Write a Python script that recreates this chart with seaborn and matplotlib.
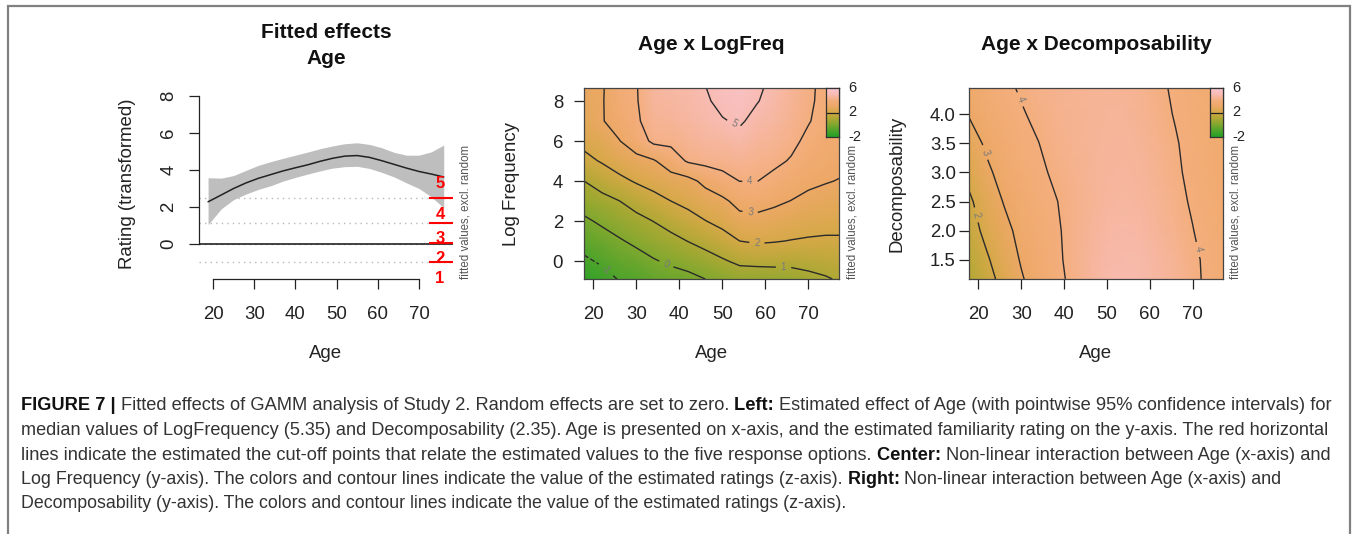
import numpy as np
import pandas as pd
import matplotlib
matplotlib.use("Agg")
import matplotlib.pyplot as plt
import seaborn as sns
from matplotlib.colors import LinearSegmentedColormap
from matplotlib.patches import Rectangle
from matplotlib.font_manager import FontProperties, findfont

# ---------------- data ----------------
# Left panel: fitted effect of Age with 95% CI
age_pts = [18.8, 22, 25, 28, 31, 34, 37, 40, 43, 46, 49, 52, 55, 58, 61, 64, 67, 70, 73, 76]
fit_vals = [2.28, 2.65, 3.0, 3.3, 3.55, 3.75, 3.95, 4.12, 4.28, 4.47, 4.63, 4.75, 4.78, 4.68, 4.5, 4.3, 4.1, 3.92, 3.78, 3.62]
ci_upper = [3.58, 3.56, 3.7, 3.98, 4.25, 4.45, 4.63, 4.8, 4.97, 5.15, 5.3, 5.42, 5.47, 5.38, 5.2, 4.95, 4.8, 4.8, 4.98, 5.35]
ci_lower = [1.05, 1.9, 2.4, 2.7, 2.95, 3.15, 3.4, 3.6, 3.78, 3.95, 4.1, 4.18, 4.2, 4.08, 3.87, 3.62, 3.3, 3.0, 2.55, 1.95]
cutoffs = [-0.97, 0.0, 1.13, 2.49]
response_labels = ["1", "2", "3", "4", "5"]

# Center panel: Age x LogFreq surface (one list per age column, rows = log frequency)
grid_age = [17.8, 22, 26, 30, 34, 38, 42, 46, 50, 54, 58, 62, 66, 70, 74, 77.1]
grid_logfreq = [-0.9, 0, 1, 2, 3, 4, 5, 6, 7, 8, 8.65]
z_logfreq_by_age = [
    [-1.6, -1.15, -0.65, -0.15, 0.41, 1.0, 1.74, 2.25, 2.55, 2.75, 2.85],
    [-1.33, -0.87, -0.37, 0.15, 0.73, 1.39, 2.08, 2.48, 2.95, 2.93, 2.9],
    [-0.95, -0.55, -0.09, 0.44, 0.99, 1.78, 2.42, 2.97, 3.35, 3.6, 3.7],
    [-0.86, -0.36, 0.19, 0.73, 1.37, 2.09, 2.72, 3.5, 3.88, 3.95, 3.96],
    [-0.55, -0.07, 0.47, 1.02, 1.7, 2.33, 2.91, 4.2, 4.4, 4.5, 4.55],
    [-0.38, 0.15, 0.73, 1.35, 2.0, 2.58, 3.52, 4.2, 4.45, 4.6, 4.7],
    [-0.25, 0.35, 1.02, 1.66, 2.25, 2.72, 4.1, 4.4, 4.6, 4.72, 4.78],
    [0.0, 0.62, 1.3, 1.98, 2.54, 3.24, 4.25, 4.55, 4.75, 4.9, 4.98],
    [0.24, 0.9, 1.63, 2.26, 2.8, 3.73, 4.26, 4.6, 4.95, 5.2, 5.3],
    [0.46, 1.19, 2.0, 2.67, 3.33, 4.01, 4.38, 4.75, 5.1, 5.35, 5.45],
    [0.44, 1.25, 2.11, 2.73, 3.38, 4.02, 4.27, 4.52, 4.78, 5.04, 5.12],
    [0.51, 1.25, 2.05, 2.62, 3.18, 3.76, 4.18, 4.4, 4.6, 4.75, 4.82],
    [0.58, 1.24, 1.97, 2.48, 2.98, 3.45, 3.93, 4.2, 4.33, 4.42, 4.45],
    [0.76, 1.3, 1.91, 2.37, 2.8, 3.17, 3.49, 3.81, 4.05, 4.1, 4.1],
    [0.92, 1.38, 1.88, 2.3, 2.69, 3.05, 3.3, 3.5, 3.7, 3.82, 3.85],
    [1.08, 1.45, 1.9, 2.25, 2.6, 2.97, 3.2, 3.4, 3.6, 3.72, 3.75],
]

# Right panel: Age x Decomposability surface (one list per decomposability row)
grid_decomp = [1.17, 1.5, 2.0, 2.5, 3.0, 3.5, 4.0, 4.45]
z_decomp_by_row = [
    [1.1, 1.7, 2.3, 2.92, 3.4, 3.8, 4.15, 4.5, 4.75, 4.85, 4.8, 4.6, 4.4, 4.15, 3.85, 3.65],
    [1.3, 1.9, 2.5, 3.07, 3.5, 3.85, 4.2, 4.5, 4.72, 4.8, 4.75, 4.58, 4.38, 4.12, 3.85, 3.65],
    [1.6, 2.25, 2.75, 3.25, 3.6, 3.9, 4.2, 4.45, 4.65, 4.72, 4.65, 4.45, 4.25, 4.02, 3.75, 3.6],
    [1.85, 2.5, 3.05, 3.45, 3.75, 3.97, 4.2, 4.4, 4.55, 4.6, 4.55, 4.38, 4.17, 3.93, 3.68, 3.55],
    [2.25, 2.85, 3.3, 3.65, 3.88, 4.1, 4.27, 4.42, 4.52, 4.55, 4.48, 4.32, 4.1, 3.85, 3.62, 3.5],
    [2.6, 3.15, 3.55, 3.82, 3.99, 4.2, 4.33, 4.43, 4.48, 4.5, 4.42, 4.25, 4.05, 3.8, 3.6, 3.48],
    [3.05, 3.45, 3.72, 3.95, 4.12, 4.25, 4.35, 4.42, 4.45, 4.45, 4.35, 4.18, 3.96, 3.75, 3.58, 3.45],
    [3.3, 3.62, 3.88, 4.06, 4.2, 4.3, 4.37, 4.42, 4.44, 4.42, 4.32, 4.1, 3.92, 3.72, 3.57, 3.45],
]
zlim = (-2, 6)
colorbar_ticks = [6, 2, -2]

# ---------------- style ----------------
sns.set_style("ticks")
plt.rcParams["font.family"] = ["Liberation Sans", "DejaVu Sans"]

W, H, DPI = 1357, 534, 100
fig = plt.figure(figsize=(W / DPI, H / DPI), dpi=DPI)


def fx(x):
    return x / W


def fy(y):
    return 1 - y / H


def rect(l, t, r, b):
    return [l / W, 1 - b / H, (r - l) / W, (b - t) / H]


terrain_like = LinearSegmentedColormap.from_list(
    "gamm_terrain",
    [(0.0, "#22A126"), (0.125, "#4DA32B"), (0.25, "#80A82E"), (0.375, "#AEA834"),
     (0.5, "#D6A847"), (0.625, "#EDA866"), (0.75, "#F4AE7C"), (0.8125, "#F6B59A"),
     (0.875, "#F8BCB4"), (1.0, "#F9C6D2")])

TICK_FS = 13.4
LAB_FS = 13.4
TITLE_FS = 15
AX_TOP, AX_BOT = 88, 279
SIDE_FS = 8.3

# ---------------- left panel ----------------
ax1 = fig.add_axes(rect(199, AX_TOP, 453, AX_BOT))
ax1.fill_between(age_pts, ci_lower, ci_upper, color="#bebebe", lw=0, zorder=1)
sns.lineplot(x=age_pts, y=fit_vals, ax=ax1, color="#222222", lw=1.1, zorder=3)
for c in cutoffs:
    ax1.axhline(c, color="#b8b8b8", ls=(0, (1, 3)), lw=1.0, zorder=2)
ax1.axhline(0, color="#222222", lw=1.2, zorder=4)
ax1.hlines([c + (0.05 if c == 0 else 0) for c in cutoffs], 72.4, 78.25, color="#ff0000", lw=1.5, zorder=5)
label_y = [-1.86, -0.77, 0.3, 1.6, 3.28]
for lab, yv in zip(response_labels, label_y):
    ax1.text(75.1, yv, lab, color="#ff0000", fontsize=12, fontweight="bold",
             ha="center", va="center", zorder=6, clip_on=False)
ax1.set_xlim(16.6, 78.25)
ax1.set_ylim(-1.89, 8.43)
ax1.set_xticks([20, 30, 40, 50, 60, 70])
ax1.set_yticks([0, 2, 4, 6, 8])
for s in ["top", "right"]:
    ax1.spines[s].set_visible(False)
ax1.spines["left"].set_bounds(0, 8)
ax1.spines["bottom"].set_bounds(20, 70)
for s in ["left", "bottom"]:
    ax1.spines[s].set_linewidth(0.9)
    ax1.spines[s].set_color("#222222")
ax1.tick_params(axis="both", length=7.5, width=0.9, color="#222222", labelsize=TICK_FS, labelcolor="#222222")
ax1.tick_params(axis="x", pad=12)
ax1.tick_params(axis="y", pad=8.0, labelrotation=90)
for t in ax1.get_yticklabels():
    t.set_va("center")
ax1.set_xlabel("")
ax1.set_ylabel("")

# ---------------- contour panels ----------------
def contour_panel(l, r, xs, ys, Z, ylim, yticks, yfmt, levels, manual, ypad):
    ax = fig.add_axes(rect(l, AX_TOP, r, AX_BOT))
    X, Y = np.meshgrid(xs, ys)
    ax.pcolormesh(X, Y, Z, shading="gouraud", cmap=terrain_like, vmin=zlim[0], vmax=zlim[1], zorder=0)
    cs = ax.contour(X, Y, Z, levels=levels, colors="#2b2b2b", linewidths=1.0, zorder=2)
    ax.clabel(cs, inline=True, fmt="%d", fontsize=7, colors="#7a7a7a", manual=manual, inline_spacing=5)
    ax.set_xlim(xs[0], xs[-1])
    ax.set_ylim(*ylim)
    ax.set_xticks([20, 30, 40, 50, 60, 70])
    ax.set_yticks(yticks)
    ax.set_yticklabels([yfmt.format(v) for v in yticks])
    for s in ax.spines.values():
        s.set_visible(True)
        s.set_linewidth(0.9)
        s.set_color("#444444")
    ax.tick_params(axis="both", length=7.5, width=0.9, color="#222222", labelsize=TICK_FS, labelcolor="#222222")
    ax.tick_params(axis="x", pad=12)
    ax.tick_params(axis="y", pad=ypad)
    ax.grid(False)
    # small colour key in the top-right corner
    cax = ax.inset_axes([1 - 13 / (r - l), 1 - 49 / (AX_BOT - AX_TOP), 13 / (r - l), 49 / (AX_BOT - AX_TOP)])
    grad = np.linspace(zlim[1], zlim[0], 200)[:, None]
    cax.imshow(grad, cmap=terrain_like, vmin=zlim[0], vmax=zlim[1], aspect="auto",
               extent=[0, 1, zlim[0], zlim[1]])
    cax.axhline(2, color="#222222", lw=0.9)
    cax.set_xticks([])
    cax.set_yticks([])
    for s in cax.spines.values():
        s.set_visible(True)
        s.set_linewidth(0.9)
        s.set_color("#333333")
    for i, tv in enumerate(colorbar_ticks):
        fig.text(fx(r + 9), fy(AX_TOP + i * 24.5), str(tv), fontsize=10.5, color="#222222",
                 ha="left", va="center")
    return ax


Zlf = np.array(z_logfreq_by_age).T
ax2 = contour_panel(584, 839, grid_age, grid_logfreq, Zlf, (-0.9, 8.65), [0, 2, 4, 6, 8], "{:d}",
                    [-1, 0, 1, 2, 3, 4, 5],
                    [(23.1, -0.4), (36.8, -0.23), (64.2, -0.32), (58.0, 0.81), (56.4, 2.34),
                     (56.4, 3.95), (52.2, 6.65)], 7.5)

Zdc = np.array(z_decomp_by_row)
ax3 = contour_panel(969, 1223, grid_age, grid_decomp, Zdc, (1.17, 4.45), [1.5, 2.0, 2.5, 3.0, 3.5, 4.0], "{:.1f}",
                    [2, 3, 4],
                    [(19.5, 2.27), (21.4, 3.34), (29.6, 4.25), (70.8, 1.67)], 2.0)

# ---------------- titles & labels ----------------
fig.text(fx(326), fy(33), "Fitted effects", fontsize=TITLE_FS, fontweight="bold", ha="center", va="center", color="#111111")
fig.text(fx(326), fy(59), "Age", fontsize=TITLE_FS, fontweight="bold", ha="center", va="center", color="#111111")
fig.text(fx(711.5), fy(45), "Age x LogFreq", fontsize=TITLE_FS, fontweight="bold", ha="center", va="center", color="#111111")
fig.text(fx(1096), fy(45), "Age x Decomposability", fontsize=TITLE_FS, fontweight="bold", ha="center", va="center", color="#111111")

for cx in (326, 711.5, 1096):
    fig.text(fx(cx), fy(353), "Age", fontsize=LAB_FS, ha="center", va="center", color="#222222")
for x, lab in ((128, "Rating (transformed)"), (512, "Log Frequency"), (897, "Decomposability")):
    fig.text(fx(x), fy((AX_TOP + AX_BOT) / 2), lab, fontsize=LAB_FS, rotation=90, ha="center", va="center", color="#222222")
for x in (465, 852, 1235):
    fig.text(fx(x), fy(AX_BOT), "fitted values, excl. random", fontsize=SIDE_FS, rotation=90,
             ha="center", va="bottom", color="#555555")

# ---------------- frame ----------------
fig.add_artist(Rectangle((fx(7.5), -0.05), (1350 - 7.5) / W, fy(6) + 0.05, transform=fig.transFigure,
                         fill=False, ec="#808080", lw=1.6, clip_on=False))

# ---------------- caption ----------------
try:
    findfont(FontProperties(family="Liberation Sans Narrow"), fallback_to_default=False)
    cap_family = ["Liberation Sans Narrow", "DejaVu Sans"]
except Exception:
    cap_family = ["Liberation Sans", "DejaVu Sans"]

caption_lines = [
    [("FIGURE 7 | ", True), ("Fitted effects of GAMM analysis of Study 2. Random effects are set to zero. ", False),
     ("Left: ", True), ("Estimated effect of Age (with pointwise 95% confidence intervals) for", False)],
    [("median values of LogFrequency (5.35) and Decomposability (2.35). Age is presented on x-axis, and the estimated familiarity rating on the y-axis. The red horizontal", False)],
    [("lines indicate the estimated the cut-off points that relate the estimated values to the five response options. ", False),
     ("Center: ", True), ("Non-linear interaction between Age (x-axis) and", False)],
    [("Log Frequency (y-axis). The colors and contour lines indicate the value of the estimated ratings (z-axis). ", False),
     ("Right: ", True), ("Non-linear interaction between Age (x-axis) and", False)],
    [("Decomposability (y-axis). The colors and contour lines indicate the value of the estimated ratings (z-axis).", False)],
]
line_right_px = [1339, 1340, 1339, 1282, 853]
renderer = fig.canvas.get_renderer()


def run_width(s, bold, size):
    t1 = fig.text(0, 0, s + "|", fontsize=size, family=cap_family, fontweight="bold" if bold else "normal")
    t2 = fig.text(0, 0, "|", fontsize=size, family=cap_family, fontweight="bold" if bold else "normal")
    w = t1.get_window_extent(renderer).width - t2.get_window_extent(renderer).width
    t1.remove()
    t2.remove()
    return w


base = 10.0
baselines = [410.5, 435, 459.5, 484, 508.5]
for runs, yb, xr in zip(caption_lines, baselines, line_right_px):
    w0 = sum(run_width(s, b, base) for s, b in runs)
    size = base * (xr - 21) / w0
    x = 21.0
    for s, b in runs:
        fig.text(fx(x), fy(yb), s, fontsize=size, family=cap_family,
                 fontweight="bold" if b else "normal", color="#111111" if b else "#333333",
                 ha="left", va="baseline")
        x += run_width(s, b, size)

fig.savefig("out.png", dpi=DPI)
